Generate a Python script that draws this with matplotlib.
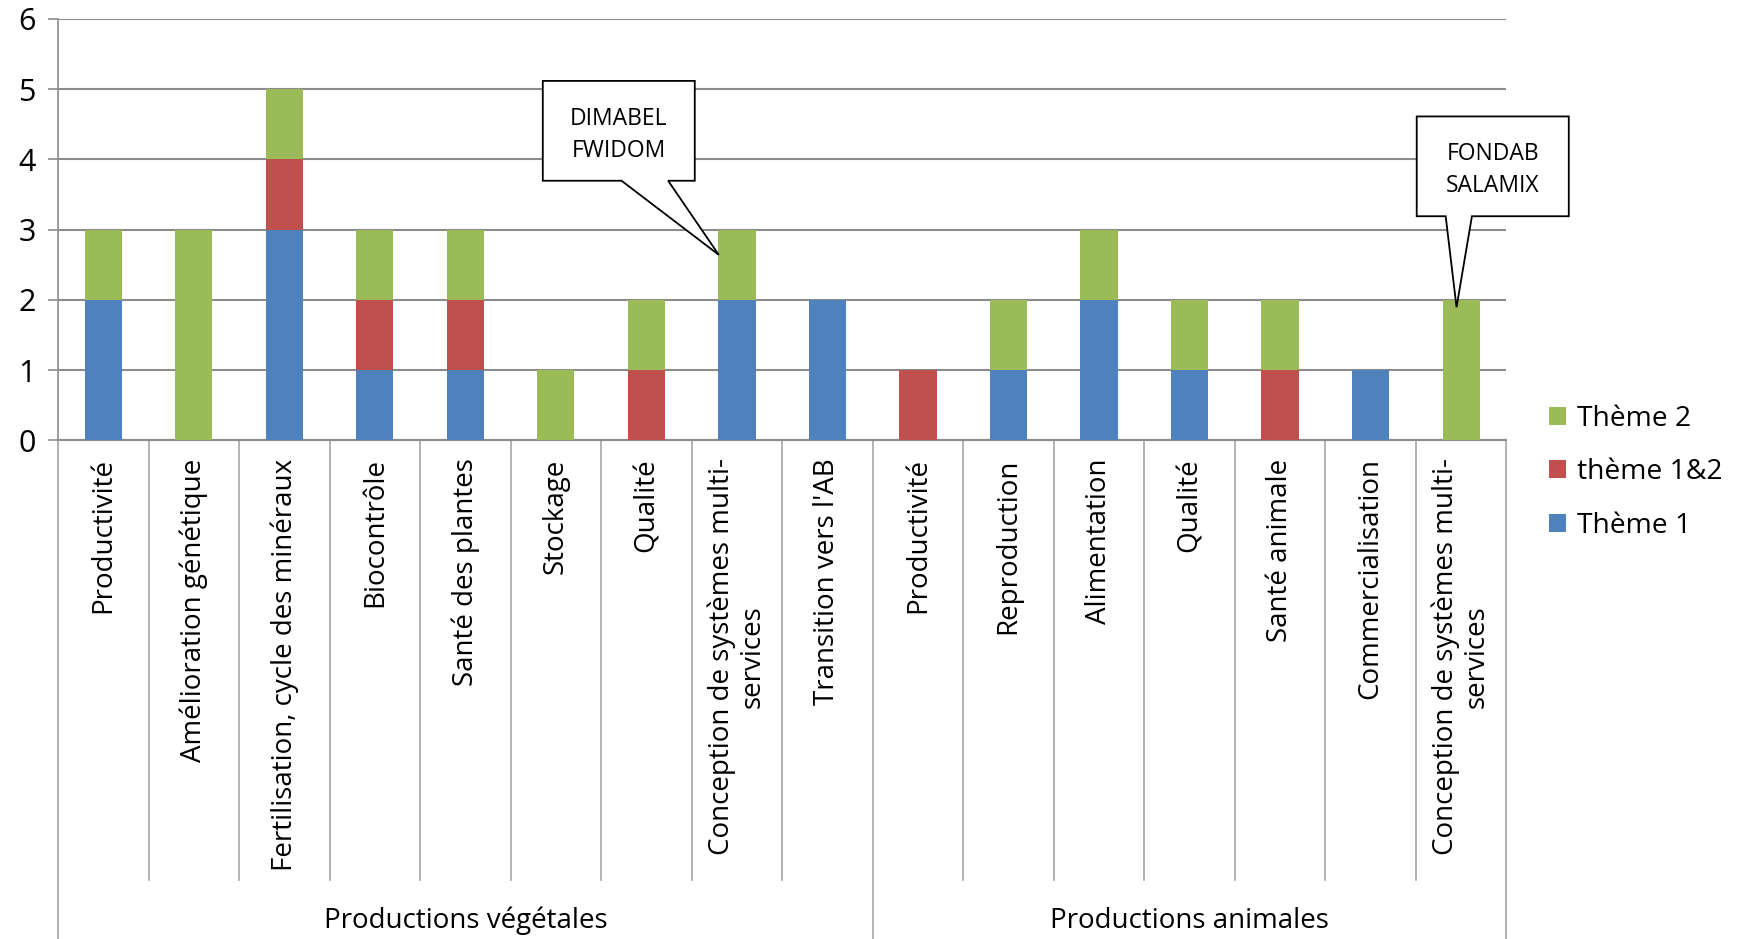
import numpy as np
import matplotlib
matplotlib.use("Agg")
import matplotlib.pyplot as plt
from matplotlib.patches import Polygon
from matplotlib.lines import Line2D

plt.rcParams['font.family'] = ['Open Sans', 'DejaVu Sans']

# data
categories = ["Productivité", "Amélioration génétique", "Fertilisation, cycle des minéraux",
              "Biocontrôle", "Santé des plantes", "Stockage", "Qualité",
              "Conception de systèmes multi-\nservices", "Transition vers l'AB",
              "Productivité", "Reproduction", "Alimentation", "Qualité",
              "Santé animale", "Commercialisation",
              "Conception de systèmes multi-\nservices"]
groups = ["Productions végétales", "Productions animales"]
group_sizes = [9, 7]
theme1 = [2, 0, 3, 1, 1, 0, 0, 2, 2, 0, 1, 2, 1, 0, 1, 0]
theme12 = [0, 0, 1, 1, 1, 0, 1, 0, 0, 1, 0, 0, 0, 1, 0, 0]
theme2 = [1, 3, 1, 1, 1, 1, 1, 1, 0, 0, 1, 1, 1, 1, 0, 2]

# callouts: text, bar index
callouts = [("DIMABEL\nFWIDOM", 7), ("FONDAB\nSALAMIX", 15)]

c_blue, c_red, c_green = "#4F81BD", "#C0504D", "#9BBB59"
grid_c = "#8C8C8C"

fig = plt.figure(figsize=(17.39, 9.39), dpi=100)
ax = fig.add_axes([0.0334, 0.531, 0.8328, 0.449])

x = np.arange(len(categories))
t1 = np.array(theme1)
t12 = np.array(theme12)
t2 = np.array(theme2)
w = 0.41
ax.bar(x, t1, w, color=c_blue, label="Thème 1", zorder=3)
ax.bar(x, t12, w, bottom=t1, color=c_red, label="thème 1&2", zorder=3)
ax.bar(x, t2, w, bottom=t1 + t12, color=c_green, label="Thème 2", zorder=3)

ax.set_xlim(-0.5, len(categories) - 0.5)
ax.set_ylim(0, 6)
ax.set_yticks(range(7))
ax.yaxis.grid(True, color=grid_c, lw=1.5, zorder=0)
ax.tick_params(axis='y', labelsize=22, length=7, width=1.2, color=grid_c, pad=9)
for s in ["top", "right"]:
    ax.spines[s].set_visible(False)
ax.spines["left"].set_color(grid_c)
ax.spines["bottom"].set_color(grid_c)
ax.spines["left"].set_linewidth(1.2)
ax.spines["bottom"].set_linewidth(1.5)

ax.set_xticks(x)
ax.set_xticklabels(categories, rotation=90, fontsize=20, va='top', ha='center',
                   linespacing=1.12)
for lab in ax.get_xticklabels():
    lab.set_multialignment('center')
ax.tick_params(axis='x', length=0, pad=13)

# separators under the axis
trans = ax.get_xaxis_transform()
bounds = np.cumsum(group_sizes) - 0.5
for b in np.arange(0.5, len(categories) - 1, 1.0):
    ymin = -1.20 if b in bounds else -1.042
    ax.add_line(Line2D([b, b], [0, ymin], transform=trans, color="#A6A6A6",
                       lw=1.2, clip_on=False))
for b in [-0.5, len(categories) - 0.5]:
    ax.add_line(Line2D([b, b], [0, -1.20], transform=trans, color="#A6A6A6",
                       lw=1.2, clip_on=False))

start = -0.5
for g, n in zip(groups, group_sizes):
    ax.text(start + n / 2, -1.139, g, transform=trans, ha='center', va='center',
            fontsize=20)
    start += n

# callouts
geo = {7: dict(box=(-2.145, -0.466, 5.116, 3.695), base=(-1.275, -0.76), tip=(-0.2, 2.64)),
       15: dict(box=(-0.49, 1.19, 4.61, 3.19), base=(-0.17, 0.12), tip=(-0.05, 1.895))}
for txt, i in callouts:
    g = geo[i]
    x0, x1, ytop, ybot = g["box"]
    b0, b1 = g["base"]
    tx, ty = g["tip"]
    pts = [(i + x0, ytop), (i + x1, ytop), (i + x1, ybot), (i + b1, ybot),
           (i + tx, ty), (i + b0, ybot), (i + x0, ybot)]
    ax.add_patch(Polygon(pts, closed=True, fc="white", ec="black", lw=1.3,
                         zorder=5, clip_on=False))
    ax.text(i + (x0 + x1) / 2, (ytop + ybot) / 2 - 0.055, txt, ha='center',
            va='center', fontsize=16.5, linespacing=1.45, zorder=6)

h, l = ax.get_legend_handles_labels()
fig.legend(h[::-1], l[::-1], loc='center left', bbox_to_anchor=(0.876, 0.497),
           frameon=False, fontsize=20.3, handlelength=0.6, handleheight=0.6,
           labelspacing=0.9, handletextpad=0.4)

fig.savefig("out.png", dpi=100)
